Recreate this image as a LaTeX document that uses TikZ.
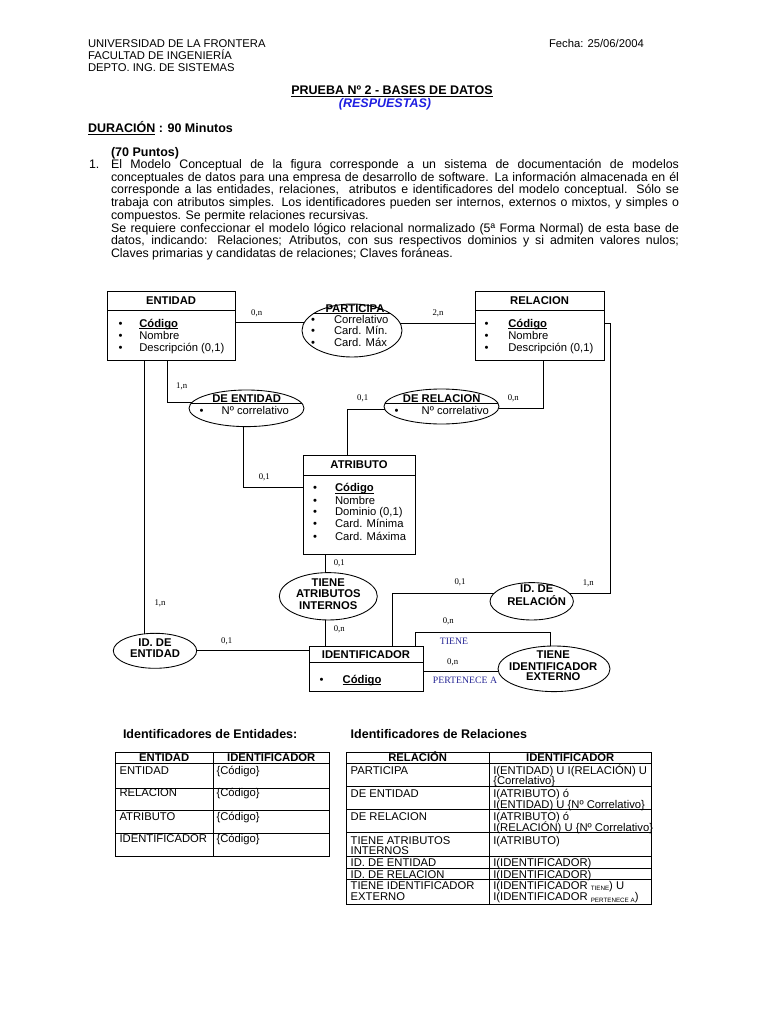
\documentclass[tikz,border=0pt]{standalone}
\usepackage{fontspec}
\setmainfont{Liberation Sans}
\newfontfamily\serifff{Liberation Serif}
\usetikzlibrary{shapes.geometric}
\definecolor{resp}{RGB}{30,30,225}
\definecolor{navy}{RGB}{40,40,150}
\newcommand\subsc[1]{\raisebox{-1.2pt}{\fontsize{5}{5}\selectfont #1}}
\newcommand\myul[1]{\setbox0=\hbox{#1}\rlap{\rule[-1.2pt]{\wd0}{0.55pt}}\box0\relax}
\begin{document}
\begin{tikzpicture}[x=0.8pt,y=-0.8pt,
  every node/.style={inner sep=0pt, outer sep=0pt},
  t9/.style={font=\fontsize{9}{10}\selectfont, anchor=base west},
  t9c/.style={font=\fontsize{9}{10}\selectfont, anchor=base},
  b9c/.style={font=\fontsize{9}{10}\selectfont\bfseries, anchor=base},
  body/.style={font=\fontsize{9.9}{11}\selectfont, anchor=base west},
  b10/.style={font=\fontsize{10}{12}\selectfont\bfseries, anchor=base west},
  card/.style={font=\serifff\fontsize{7}{8}\selectfont, anchor=center},
  rolelbl/.style={font=\serifff\fontsize{7.8}{9}\selectfont, text=navy, anchor=center},
  entbox/.style={draw, line width=0.7pt, rectangle, anchor=north west},
  relell/.style={draw, line width=0.7pt, ellipse},
  conn/.style={line width=0.7pt},
  tbl/.style={line width=0.8pt}
]
\fill[white] (0,0) rectangle (768,1024);
\useasboundingbox (0,0) rectangle (768,1024);

% ---------- header ----------
\node[t9] (h1) at (88,47.5) {UNIVERSIDAD DE LA FRONTERA};
\node[t9] (h2) at (88,59.5) {FACULTAD DE INGENIERÍA};
\node[t9] (h3) at (88,71.5) {DEPTO. ING. DE SISTEMAS};
\node[t9] (fecha) at (549,47.5) {Fecha: 25/06/2004};

\node[font=\fontsize{10}{12}\selectfont\bfseries, anchor=base] (title) at (392,95) {\myul{PRUEBA Nº 2 - BASES DE DATOS}};
\node[font=\fontsize{10}{12}\selectfont\bfseries\itshape, text=resp, anchor=base] (resp) at (385,108) {(RESPUESTAS)};
\node[b10] (dur) at (88,133) {\myul{DURACIÓN} : 90 Minutos};
\node[b10] (pts) at (111,157) {(70 Puntos)};

\node[body] (num) at (89,168.5) {1.};
\node[body] (p1) at (111,168.5) {\makebox[454.4pt][s]{El Modelo Conceptual de la figura corresponde a un sistema de documentación de modelos}};
\node[body] (p2) at (111,181.2) {\makebox[454.4pt][s]{conceptuales de datos para una empresa de desarrollo de software. La información almacenada en él}};
\node[body] (p3) at (111,193.9) {\makebox[454.4pt][s]{corresponde a las entidades, relaciones, \ atributos e identificadores del modelo conceptual. Sólo se}};
\node[body] (p4) at (111,206.6) {\makebox[454.4pt][s]{trabaja con atributos simples. Los identificadores pueden ser internos, externos o mixtos, y simples o}};
\node[body] (p5) at (111,219.3) {compuestos. Se permite relaciones recursivas.};
\node[body] (p6) at (111,232) {\makebox[454.4pt][s]{Se requiere confeccionar el modelo lógico relacional normalizado (5ª Forma Normal) de esta base de}};
\node[body] (p7) at (111,244.7) {\makebox[454.4pt][s]{datos, indicando: Relaciones; Atributos, con sus respectivos dominios y si admiten valores nulos;}};
\node[body] (p8) at (111,257.4) {Claves primarias y candidatas de relaciones; Claves foráneas.};

% ---------- entity boxes ----------
\node[entbox, minimum width=102.4pt, minimum height=55.2pt] (ent) at (107,291) {};
\draw[conn] ([yshift=-15.6pt]ent.north west) -- ([yshift=-15.6pt]ent.north east);
\node[b9c] (entT) at (171,304) {ENTIDAD};
\node[t9c] (entB1) at (120.7,327.5) {\textbullet};
\node[t9c] (entB2) at (120.7,339.5) {\textbullet};
\node[t9c] (entB3) at (120.7,351.5) {\textbullet};
\node[t9] (entA1) at (139.3,327.5) {\myul{\textbf{Código}}};
\node[t9] (entA2) at (139.3,339.5) {Nombre};
\node[t9] (entA3) at (139.3,351.5) {Descripción (0,1)};

\node[entbox, minimum width=103.2pt, minimum height=55.2pt] (rel) at (475,291) {};
\draw[conn] ([yshift=-15.6pt]rel.north west) -- ([yshift=-15.6pt]rel.north east);
\node[b9c] (relT) at (539.5,304) {RELACION};
\node[t9c] (relB1) at (486.7,327.5) {\textbullet};
\node[t9c] (relB2) at (486.7,339.5) {\textbullet};
\node[t9c] (relB3) at (486.7,351.5) {\textbullet};
\node[t9] (relA1) at (508.3,327.5) {\myul{\textbf{Código}}};
\node[t9] (relA2) at (508.3,339.5) {Nombre};
\node[t9] (relA3) at (508.3,351.5) {Descripción (0,1)};

\node[entbox, minimum width=89.6pt, minimum height=79.2pt] (atr) at (303,455) {};
\draw[conn] ([yshift=-16pt]atr.north west) -- ([yshift=-16pt]atr.north east);
\node[b9c] (atrT) at (359,468.5) {ATRIBUTO};
\node[t9c] (atrB1) at (315,491.8) {\textbullet};
\node[t9c] (atrB2) at (315,504.2) {\textbullet};
\node[t9c] (atrB3) at (315,515.8) {\textbullet};
\node[t9c] (atrB4) at (315,527.5) {\textbullet};
\node[t9c] (atrB5) at (315,540.2) {\textbullet};
\node[t9] (atrA1) at (335,491.8) {\myul{\textbf{Código}}};
\node[t9] (atrA2) at (335,504.2) {Nombre};
\node[t9] (atrA3) at (335,515.8) {Dominio (0,1)};
\node[t9] (atrA4) at (335,527.5) {Card. Mínima};
\node[t9] (atrA5) at (335,540.2) {Card. Máxima};

\node[entbox, minimum width=91.2pt, minimum height=36pt] (iden) at (309,646) {};
\draw[conn] ([yshift=-12.8pt]iden.north west) -- ([yshift=-12.8pt]iden.north east);
\node[b9c] (idenT) at (366,658.5) {IDENTIFICADOR};
\node[t9c] (idenB1) at (321.7,683) {\textbullet};
\node[t9] (idenA1) at (342.7,683) {\myul{\textbf{Código}}};

% ---------- relationship ellipses ----------
\node[relell, minimum width=80pt, minimum height=42.4pt] (part) at (352,330.5) {};
\begin{scope}
  \clip (part.center) ellipse [x radius=40pt, y radius=21.2pt];
  \draw[conn] (290,313.4) -- (420,313.4);
\end{scope}
\node[b9c] (partT) at (355,312.2) {PARTICIPA};
\node[t9c] (partB1) at (313,323) {\textbullet};
\node[t9c] (partB2) at (313,334.8) {\textbullet};
\node[t9c] (partB3) at (313,346.4) {\textbullet};
\node[t9] (partA1) at (334,323) {Correlativo};
\node[t9] (partA2) at (334,334.8) {Card. Mín.};
\node[t9] (partA3) at (334,346.4) {Card. Máx};

\node[relell, minimum width=92pt, minimum height=29.3pt] (deent) at (246.5,408.3) {};
\begin{scope}
  \clip (deent.center) ellipse [x radius=46pt, y radius=14.65pt];
  \draw[conn] (180,403.9) -- (320,403.9);
\end{scope}
\node[b9c] (deentT) at (246.7,402.7) {DE ENTIDAD};
\node[t9c] (deentB) at (201.7,414.3) {\textbullet};
\node[t9] (deentA) at (221.7,414.3) {Nº correlativo};

\node[relell, minimum width=92pt, minimum height=28pt] (derel) at (441.5,406.5) {};
\begin{scope}
  \clip (derel.center) ellipse [x radius=46pt, y radius=14pt];
  \draw[conn] (375,403.9) -- (510,403.9);
\end{scope}
\node[b9c] (derelT) at (441.7,402.7) {DE RELACION};
\node[t9c] (derelB) at (396.7,414.3) {\textbullet};
\node[t9] (derelA) at (421.7,414.3) {Nº correlativo};

\node[relell, minimum width=78.4pt, minimum height=37.9pt] (tai) at (328.3,596.3) {};
\node[b9c] (taiT1) at (328.3,586.8) {TIENE};
\node[b9c] (taiT2) at (328.3,597.8) {ATRIBUTOS};
\node[b9c] (taiT3) at (328.3,609.2) {INTERNOS};

\node[relell, minimum width=66.7pt, minimum height=28pt] (idend) at (155,650.8) {};
\node[b9c] (idendT1) at (155,646.2) {ID. DE};
\node[b9c] (idendT2) at (155,657.8) {ENTIDAD};

\node[relell, minimum width=66.7pt, minimum height=29.9pt] (idrel) at (531.7,601.3) {};
\node[b9c] (idrelT1) at (536.7,592.8) {ID. DE};
\node[b9c] (idrelT2) at (536.7,605.2) {RELACIÓN};

\node[relell, minimum width=89.6pt, minimum height=36.5pt] (tie) at (554,668.8) {};
\node[b9c] (tieT1) at (553.3,658.5) {TIENE};
\node[b9c] (tieT2) at (553.3,670.2) {IDENTIFICADOR};
\node[b9c] (tieT3) at (553.3,680.8) {EXTERNO};

% ---------- connectors ----------
\coordinate (rturn) at (610,400);
\coordinate (loop) at (415,632.7);
\draw[conn] (ent.east |- part.171.1) -- (part.171.1);
\draw[conn] (part.8.9) -- (rel.west |- part.8.9);
\draw[conn] ([xshift=48.6pt]ent.south west) |- (deent.174.2);
\draw[conn] (deent.259.2) |- ([yshift=-26.2pt]atr.north west);
\draw[conn] ([xshift=54.6pt]rel.south west) |- (derel.358.2);
\draw[conn] (derel.183.6) -| ([xshift=35.6pt]atr.north west);
\draw[conn] (idend.122.3) -- (idend.122.3 |- ent.south);
\draw[conn] (tai.97.9) -- (tai.97.9 |- atr.south);
\draw[conn] (tai.262.1) -- (tai.262.1 |- iden.north);
\draw[conn] (idend.east) -- (idend.east -| iden.west);
\draw[conn] ([xshift=67pt]iden.north west) |- (idrel.168);
\draw[conn] ([yshift=-25.6pt]rel.north east) -| (rturn |- idrel.12) -- (idrel.12);
\draw[conn] ([xshift=84.8pt]iden.north west) |- (tie.98.25 |- loop) -- (tie.98.25);
\draw[conn] (tie.183) -- (tie.183 -| iden.east);

% ---------- cardinalities ----------
\node[card] (c1) at (256.7,313) {0,n};
\node[card] (c2) at (438,313) {2,n};
\node[card] (c3) at (181.7,386.7) {1,n};
\node[card] (c4) at (264.3,477.7) {0,1};
\node[card] (c5) at (513.3,398.3) {0,n};
\node[card] (c6) at (362.7,398.3) {0,1};
\node[card] (c7) at (160,603.3) {1,n};
\node[card] (c8) at (339.3,563.3) {0,1};
\node[card] (c9) at (339.3,629.3) {0,n};
\node[card] (c10) at (226.7,641.7) {0,1};
\node[card] (c11) at (460,582.7) {0,1};
\node[card] (c12) at (588.3,583.3) {1,n};
\node[card] (c13) at (448.3,621.7) {0,n};
\node[card] (c14) at (452.7,662.7) {0,n};
\node[rolelbl] (r1) at (454,641.7) {TIENE};
\node[rolelbl] (r2) at (465,680.7) {PERTENECE A};

% ---------- tables ----------
\node[b10] (tt1) at (123,738.5) {Identificadores de Entidades:};
\node[b10] (tt2) at (350.7,738.5) {Identificadores de Relaciones};

\draw[tbl] (115,752.3) rectangle (329,856.7);
\draw[tbl] (213.3,752.3) -- (213.3,856.7);
\foreach \yy in {763.3,788.3,810.7,833.3} \draw[tbl] (115,\yy) -- (329,\yy);
\node[b9c] (lh1) at (164.2,761.8) {ENTIDAD};
\node[b9c] (lh2) at (271.2,761.8) {IDENTIFICADOR};
\node[t9] (l11) at (119.5,774.5) {ENTIDAD};
\node[t9] (l12) at (216.5,774.5) {\{Código\}};
\node[t9] (l21) at (119.5,796.2) {RELACION};
\node[t9] (l22) at (216.5,796.2) {\{Código\}};
\node[t9] (l31) at (119.5,820.2) {ATRIBUTO};
\node[t9] (l32) at (216.5,820.2) {\{Código\}};
\node[t9] (l41) at (119.5,842.8) {IDENTIFICADOR};
\node[t9] (l42) at (216.5,842.8) {\{Código\}};

\draw[tbl] (346,752.3) rectangle (651,904);
\draw[tbl] (489.3,752.3) -- (489.3,904);
\foreach \yy in {763.3,786,809.3,832.7,856,868.3,879.3} \draw[tbl] (346,\yy) -- (651,\yy);
\node[b9c] (rh1) at (417.7,761.8) {RELACIÓN};
\node[b9c] (rh2) at (570.2,761.8) {IDENTIFICADOR};
\node[t9] (q1a) at (350.7,774.5) {PARTICIPA};
\node[t9] (q1b) at (493.3,774.5) {I(ENTIDAD) U I(RELACIÓN) U};
\node[t9] (q1c) at (493.3,784.8) {\{Correlativo\}};
\node[t9] (q2a) at (350.7,797.5) {DE ENTIDAD};
\node[t9] (q2b) at (493.3,797.5) {I(ATRIBUTO) ó};
\node[t9] (q2c) at (493.3,808.3) {I(ENTIDAD) U \{Nº Correlativo\}};
\node[t9] (q3a) at (350.7,820.8) {DE RELACION};
\node[t9] (q3b) at (493.3,820.8) {I(ATRIBUTO) ó};
\node[t9] (q3c) at (493.3,831.6) {I(RELACIÓN) U \{Nº Correlativo\}};
\node[t9] (q4a) at (350.7,844.2) {TIENE ATRIBUTOS};
\node[t9] (q4b) at (350.7,854.5) {INTERNOS};
\node[t9] (q4c) at (493.3,844.2) {I(ATRIBUTO)};
\node[t9] (q5a) at (350.7,866.6) {ID. DE ENTIDAD};
\node[t9] (q5b) at (493.3,866.6) {I(IDENTIFICADOR)};
\node[t9] (q6a) at (350.7,878.2) {ID. DE RELACION};
\node[t9] (q6b) at (493.3,878.2) {I(IDENTIFICADOR)};
\node[t9] (q7a) at (350.7,889.2) {TIENE IDENTIFICADOR};
\node[t9] (q7b) at (350.7,900.8) {EXTERNO};
\node[t9] (q7c) at (493.3,889.2) {I(IDENTIFICADOR \subsc{TIENE}) U};
\node[t9] (q7d) at (493.3,900.8) {I(IDENTIFICADOR \subsc{PERTENECE A})};
\end{tikzpicture}
\end{document}
